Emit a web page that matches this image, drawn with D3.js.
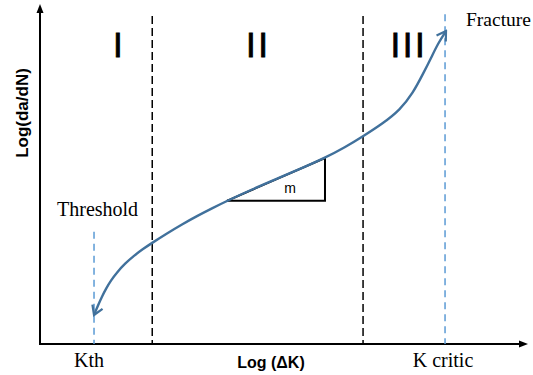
<!DOCTYPE html>
<html>
<head>
<meta charset="utf-8">
<script src="https://cdn.jsdelivr.net/npm/d3@7"></script>
<style>
  html, body { margin: 0; padding: 0; background: #fff; }
  svg { display: block; }
</style>
</head>
<body>
<svg id="chart" width="533" height="375"></svg>
<script>
// Schematic fatigue crack growth curve: log(da/dN) against log(ΔK)
// Coordinates are in arbitrary log units, 0–100 on each axis.

const curveX = [11.07, 11.89, 12.70, 13.52, 14.55, 15.78, 17.42, 19.26, 21.11, 22.95,
                26.02, 29.10, 32.17, 35.25, 38.32, 43.34, 48.36, 53.38, 58.40,
                62.50, 66.19, 70.29, 73.77, 76.43, 78.48, 80.33, 81.56, 83.20];
const curveY = [8.53, 11.35, 13.94, 16.26, 18.71, 21.09, 23.65, 25.97, 27.97, 29.71,
                32.53, 35.18, 37.65, 39.91, 42.09, 45.41, 48.50, 51.53, 54.76,
                57.85, 61.09, 64.91, 68.85, 73.82, 79.41, 84.71, 88.38, 92.06];

const regionBounds = [23.0, 66.2];          // limits between regions I/II and II/III
const regionNames = ["I", "II", "III"];
const regionLabelX = [16.2, 44.7, 75.6];

const kLimits = [11.07, 83.0];              // threshold and critical stress intensity
const kLimitTop = [33.0, 97.0];
const kLimitNames = ["Kth", "K critic"];
const kNotes = ["Threshold", "Fracture"];

const slopeTriangle = { x: [38.3, 58.4], y: [42.1, 54.7], label: "m" };

const svg = d3.select("#chart");

const x = d3.scaleLinear().domain([0, 100]).range([40, 528]);
const y = d3.scaleLinear().domain([0, 100]).range([344, 4]);

const defs = svg.append("defs");
defs.append("marker")
  .attr("id", "curveArrow")
  .attr("viewBox", "-12 -8 14 16")
  .attr("refX", 0).attr("refY", 0)
  .attr("markerUnits", "userSpaceOnUse")
  .attr("markerWidth", 14).attr("markerHeight", 16)
  .attr("orient", "auto-start-reverse")
  .append("path")
  .attr("d", "M-9,-5.5 L0,0 L-9,5.5")
  .attr("fill", "none")
  .attr("stroke", "#41719c")
  .attr("stroke-width", 2.2)
  .attr("stroke-linejoin", "miter");

// Axes (plain lines with arrow tips)
const x0 = x(0), y0 = y(0);
svg.append("line")
  .attr("x1", x0).attr("y1", y0 + 1).attr("x2", x0).attr("y2", y(100) + 6)
  .attr("stroke", "#000").attr("stroke-width", 2);
svg.append("path")
  .attr("d", `M${x0},${y(100)} L${x0 - 3.5},${y(100) + 9} L${x0 + 3.5},${y(100) + 9} Z`)
  .attr("fill", "#000");
svg.append("line")
  .attr("x1", x0 - 1).attr("y1", y0).attr("x2", x(100) - 6).attr("y2", y0)
  .attr("stroke", "#000").attr("stroke-width", 2);
svg.append("path")
  .attr("d", `M${x(100)},${y0} L${x(100) - 9},${y0 - 3.5} L${x(100) - 9},${y0 + 3.5} Z`)
  .attr("fill", "#000");

// Region boundaries
svg.selectAll("line.bound")
  .data(regionBounds)
  .join("line")
  .attr("class", "bound")
  .attr("x1", d => x(d)).attr("x2", d => x(d))
  .attr("y1", y(96.5)).attr("y2", y0)
  .attr("stroke", "#000")
  .attr("stroke-width", 1.5)
  .attr("stroke-dasharray", "8,4");

// Threshold and critical K lines
svg.selectAll("line.klim")
  .data(kLimits)
  .join("line")
  .attr("class", "klim")
  .attr("x1", d => x(d)).attr("x2", d => x(d))
  .attr("y1", (d, i) => y(kLimitTop[i])).attr("y2", y0)
  .attr("stroke", "#5b9bd5")
  .attr("stroke-width", 1.5)
  .attr("stroke-dasharray", "7,5");

// Slope triangle
const t = slopeTriangle;
svg.append("path")
  .attr("d", `M${x(t.x[0])},${y(t.y[0])} L${x(t.x[1])},${y(t.y[0])} L${x(t.x[1])},${y(t.y[1])}`)
  .attr("fill", "none")
  .attr("stroke", "#000")
  .attr("stroke-width", 2);
svg.append("line")
  .attr("x1", x(t.x[0])).attr("y1", y(t.y[0]))
  .attr("x2", x(t.x[1])).attr("y2", y(t.y[1]))
  .attr("stroke", "#000").attr("stroke-width", 2);
svg.append("text")
  .attr("x", x(t.x[1]) - 35).attr("y", y(t.y[0]) - 8)
  .attr("text-anchor", "middle")
  .attr("font-family", "'Liberation Sans', Arial, sans-serif")
  .attr("font-size", 14)
  .attr("fill", "#000")
  .text(t.label);

// Crack growth curve
const pts = curveX.map((v, i) => [x(v), y(curveY[i])]);
svg.append("path")
  .attr("d", d3.line().curve(d3.curveBasis)(pts))
  .attr("fill", "none")
  .attr("stroke", "#41719c")
  .attr("stroke-width", 2.4)
  .attr("marker-start", "url(#curveArrow)")
  .attr("marker-end", "url(#curveArrow)");

// Region numerals
svg.selectAll("text.region")
  .data(regionNames)
  .join("text")
  .attr("class", "region")
  .attr("x", (d, i) => x(regionLabelX[i]))
  .attr("y", 57)
  .attr("text-anchor", "middle")
  .attr("font-family", "'Liberation Sans', Arial, sans-serif")
  .attr("font-size", 35)
  .attr("letter-spacing", 2.5)
  .attr("fill", "#000")
  .attr("stroke", "#000")
  .attr("stroke-width", 0.8)
  .text(d => d);

// K labels below the axis
svg.selectAll("text.klab")
  .data(kLimitNames)
  .join("text")
  .attr("class", "klab")
  .attr("x", (d, i) => x(kLimits[i]) + (i === 0 ? -5 : -2))
  .attr("y", 367)
  .attr("text-anchor", "middle")
  .attr("font-family", "'Liberation Serif', 'Times New Roman', serif")
  .attr("font-size", 20)
  .attr("fill", "#000")
  .text(d => d);

// Notes at both ends of the curve
svg.append("text")
  .attr("x", 57).attr("y", 216)
  .attr("font-family", "'Liberation Serif', 'Times New Roman', serif")
  .attr("font-size", 20)
  .attr("fill", "#000")
  .text(kNotes[0]);
svg.append("text")
  .attr("x", 466).attr("y", 26)
  .attr("font-family", "'Liberation Serif', 'Times New Roman', serif")
  .attr("font-size", 19.5)
  .attr("fill", "#000")
  .text(kNotes[1]);

// Axis titles
svg.append("text")
  .attr("x", 271).attr("y", 368)
  .attr("text-anchor", "middle")
  .attr("font-family", "'Liberation Sans', Arial, sans-serif")
  .attr("font-weight", "bold")
  .attr("font-size", 16)
  .attr("fill", "#000")
  .text("Log (ΔK)");
svg.append("text")
  .attr("transform", "translate(28,113) rotate(-90)")
  .attr("text-anchor", "middle")
  .attr("font-family", "'Liberation Sans', Arial, sans-serif")
  .attr("font-weight", "bold")
  .attr("font-size", 17)
  .attr("fill", "#000")
  .text("Log(da/dN)");
</script>
</body>
</html>
